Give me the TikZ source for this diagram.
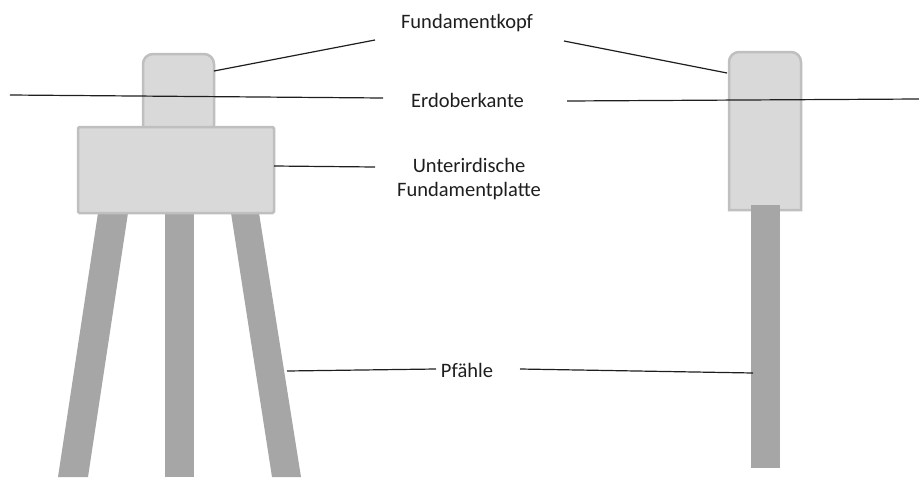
\documentclass[tikz,border=0pt]{standalone}
\usepackage{fontspec}
\setmainfont{Carlito}
\definecolor{headfill}{HTML}{D9D9D9}
\definecolor{headline}{HTML}{BFBFBF}
\definecolor{pilegray}{HTML}{A6A6A6}
\definecolor{leader}{HTML}{1E1E1E}
\definecolor{txt}{HTML}{1E1E1E}
\tikzset{
  concrete/.style={fill=headfill, draw=headline, line width=2.5pt},
  pilefill/.style={fill=pilegray, draw=none},
  leaderline/.style={draw=leader, line width=1.2pt},
  label/.style={text=txt, font=\fontsize{20.5}{24}\selectfont, inner sep=0pt, align=center}
}
\begin{document}
\begin{tikzpicture}[x=1pt, y=-1pt]
\useasboundingbox (0,0) rectangle (919,477);
% left piles
\fill[pilefill] (98,213) -- (128,213) -- (88,477) -- (58,477) -- cycle;
\fill[pilefill] (165,213) rectangle (194,477);
\fill[pilefill] (231,213) -- (259,213) -- (301,477) -- (272,477) -- cycle;
% left head and plate
\draw[concrete, rounded corners=10pt] (143,135) -- (143,54) -- (214,54) -- (214,135) -- cycle;
\draw[concrete, rounded corners=1.5pt] (78,127) rectangle (274,213);
% right head and pile
\draw[concrete] (729,210) -- (729,62) arc[start angle=180, end angle=270, radius=10]
  -- (791,52) arc[start angle=270, end angle=360, radius=10] -- (801,210) -- cycle;
\fill[pilefill] (751,205) rectangle (780,468);
% labels
\node[label, anchor=base] (fk) at (467,28) {Fundamentkopf};
\node[label, anchor=base] (eo) at (467.5,107) {Erdoberkante};
\node[label] (up) at (469,179) {Unterirdische\\Fundamentplatte};
\node[label, anchor=base] (pf) at (467,377) {Pfähle};
% leader end points
\coordinate (fkL1) at (214,71);  \coordinate (fkL2) at (375,40);
\coordinate (fkR1) at (564,41);  \coordinate (fkR2) at (727,73);
\coordinate (eoL1) at (10,95);   \coordinate (eoL2) at (383,98);
\coordinate (eoR1) at (567,101); \coordinate (eoR2) at (919,99);
\coordinate (upL1) at (274,166); \coordinate (upL2) at (375,167);
\coordinate (pfL1) at (287,371); \coordinate (pfL2) at (436,369);
\coordinate (pfR1) at (520,369); \coordinate (pfR2) at (753,373);
\draw[leaderline] (fkL1) -- (fkL2);
\draw[leaderline] (fkR1) -- (fkR2);
\draw[leaderline] (eoL1) -- (eoL2);
\draw[leaderline] (eoR1) -- (eoR2);
\draw[leaderline] (upL1) -- (upL2);
\draw[leaderline] (pfL1) -- (pfL2);
\draw[leaderline] (pfR1) -- (pfR2);
\end{tikzpicture}
\end{document}
